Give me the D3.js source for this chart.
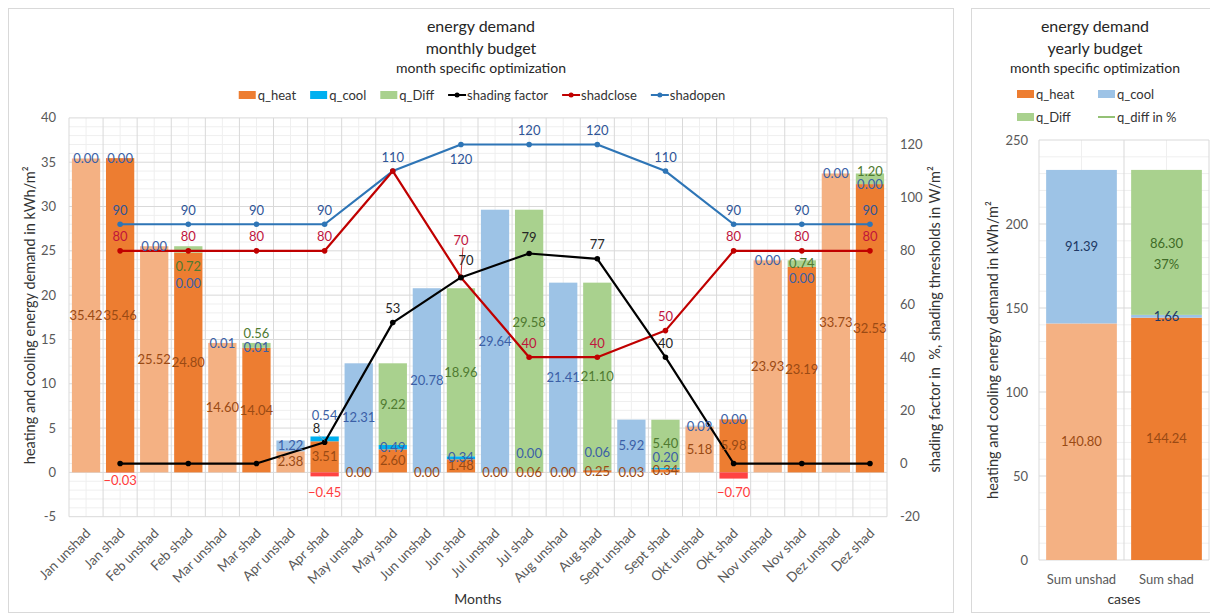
<!DOCTYPE html>
<html>
<head>
<meta charset="utf-8">
<script src="https://cdn.jsdelivr.net/npm/d3@7"></script>
<style>
  body { margin: 0; background: #fff; }
  svg { display: block; font-family: Lato, "Open Sans", sans-serif; }
</style>
</head>
<body>
<svg id="chart" width="1210" height="615"></svg>
<script>
// ---- monthly budget data (kWh/m²) ----
const categories = [
  "Jan unshad", "Jan shad", "Feb unshad", "Feb shad", "Mar unshad", "Mar shad",
  "Apr unshad", "Apr shad", "May unshad", "May shad", "Jun unshad", "Jun shad",
  "Jul unshad", "Jul shad", "Aug unshad", "Aug shad", "Sept unshad", "Sept shad",
  "Okt unshad", "Okt shad", "Nov unshad", "Nov shad", "Dez unshad", "Dez shad"
];
const heatUnshad = [35.42, 25.52, 14.60, 2.38, 0.00, 0.00, 0.00, 0.00, 0.03, 5.18, 23.93, 33.73];
const coolUnshad = [0.00, 0.00, 0.01, 1.22, 12.31, 20.78, 29.64, 21.41, 5.92, 0.09, 0.00, 0.00];
const heatShad   = [35.46, 24.80, 14.04, 3.51, 2.60, 1.48, 0.06, 0.25, 0.34, 5.98, 23.19, 32.53];
const coolShad   = [0.00, 0.00, 0.01, 0.54, 0.49, 0.34, 0.00, 0.06, 0.20, 0.00, 0.00, 0.00];
const diffShad   = [-0.03, 0.72, 0.56, -0.45, 9.22, 18.96, 29.58, 21.10, 5.40, -0.70, 0.74, 1.20];

// shading control (secondary axis: % and W/m²)
const shadingFactor = [0, 0, 0, 8, 53, 70, 79, 77, 40, 0, 0, 0];
const shadClose     = [80, 80, 80, 80, 110, 70, 40, 40, 50, 80, 80, 80];
const shadOpen      = [90, 90, 90, 90, 110, 120, 120, 120, 110, 90, 90, 90];

const leftTicks  = [-5, 0, 5, 10, 15, 20, 25, 30, 35, 40];
const rightTicks = [-20, 0, 20, 40, 60, 80, 100, 120];

// ---- yearly budget data ----
const yearCases   = ["Sum unshad", "Sum shad"];
const yearHeat    = [140.80, 144.24];
const yearCool    = [91.39, 1.66];
const yearDiff    = [0, 86.30];
const yearDiffPct = [null, 37];
const yearTicks   = [0, 50, 100, 150, 200, 250];

const col = {
  heatLight: "#F4B183", coolLight: "#9DC3E6", heat: "#ED7D31", coolBright: "#00B0F0",
  diff: "#A9D18E", neg: "#FF4343",
  factor: "#000000", close: "#C00000", open: "#2E75B6",
  lblHeat: "#9A4A14", lblCool: "#3B5FA6", lblDiff: "#4F7A30", lblNeg: "#FF3B3B",
  lblClose: "#C0143C", lblOpen: "#2F5597", lblFactor: "#262626",
  grid: "#D9D9D9", gridMinor: "#EFEFEF", tick: "#595959", title: "#333333"
};

const svg = d3.select("#chart");
const fmt = d3.format(".2f");

// panel frames
svg.append("rect").attr("x", 8.5).attr("y", 8.5).attr("width", 945).attr("height", 604)
  .attr("fill", "#fff").attr("stroke", "#D9D9D9");
svg.append("rect").attr("x", 971.5).attr("y", 8.5).attr("width", 260).attr("height", 604)
  .attr("fill", "#fff").attr("stroke", "#D9D9D9");

// ================= monthly chart =================
const P = { left: 69, right: 887, top: 117.9, bottom: 516.7 };
const x = d3.scaleBand().domain(categories).range([P.left, P.right])
  .paddingInner(0.17).paddingOuter(0.085);
const y = d3.scaleLinear().domain([-5, 40]).range([P.bottom, P.top]);
const yR = d3.scaleLinear().domain([-20, 130]).range([P.bottom, P.top]);
const bw = x.bandwidth(), step = x.step();
const cx = c => x(c) + bw / 2;

// gridlines
const gMain = svg.append("g");
d3.range(-5, 40.01, 1).forEach(v => {
  if (v % 5 === 0) return;
  gMain.append("line").attr("x1", P.left).attr("x2", P.right)
    .attr("y1", y(v)).attr("y2", y(v)).attr("stroke", col.gridMinor);
});
categories.forEach(c => {
  gMain.append("line").attr("x1", cx(c)).attr("x2", cx(c))
    .attr("y1", P.top).attr("y2", P.bottom).attr("stroke", col.gridMinor);
});
d3.range(categories.length + 1).forEach(i => {
  const xx = P.left + i * step;
  gMain.append("line").attr("x1", xx).attr("x2", xx)
    .attr("y1", P.top).attr("y2", P.bottom).attr("stroke", col.grid);
});
leftTicks.forEach(v => {
  gMain.append("line").attr("x1", P.left).attr("x2", P.right)
    .attr("y1", y(v)).attr("y2", y(v)).attr("stroke", col.grid);
});

// rows for stacking
const rows = categories.map((c, i) => {
  const m = Math.floor(i / 2), shad = i % 2 === 1;
  return {
    cat: c, m, shad,
    heat: shad ? heatShad[m] : heatUnshad[m],
    cool: shad ? coolShad[m] : coolUnshad[m],
    diff: shad ? diffShad[m] : null
  };
});

const segs = [];
rows.forEach(r => {
  segs.push({ r, key: "heat", v: r.heat, y0: 0, y1: r.heat, fill: r.shad ? col.heat : col.heatLight });
  segs.push({ r, key: "cool", v: r.cool, y0: r.heat, y1: r.heat + r.cool, fill: r.shad ? col.coolBright : col.coolLight });
  if (r.diff !== null) {
    if (r.diff >= 0) {
      const b = r.heat + r.cool;
      segs.push({ r, key: "diff", v: r.diff, y0: b, y1: b + r.diff, fill: col.diff });
    } else {
      segs.push({ r, key: "diff", v: r.diff, y0: r.diff, y1: 0, fill: col.neg });
    }
  }
});

svg.append("g").selectAll("rect").data(segs).join("rect")
  .attr("x", d => x(d.r.cat)).attr("width", bw)
  .attr("y", d => y(Math.max(d.y0, d.y1)))
  .attr("height", d => Math.abs(y(d.y0) - y(d.y1)))
  .attr("fill", d => d.fill);

// lines on the secondary axis, drawn at the shaded cases
const shadCats = categories.filter((c, i) => i % 2 === 1);
const lineGen = d3.line().x(d => cx(d.c)).y(d => yR(d.v));
const lineSeries = [
  { name: "shadopen", vals: shadOpen, color: col.open, lbl: col.lblOpen },
  { name: "shadclose", vals: shadClose, color: col.close, lbl: col.lblClose },
  { name: "shading factor", vals: shadingFactor, color: col.factor, lbl: col.lblFactor }
];
const gLines = svg.append("g");
lineSeries.forEach(s => {
  const pts = s.vals.map((v, i) => ({ c: shadCats[i], v }));
  gLines.append("path").attr("d", lineGen(pts)).attr("fill", "none")
    .attr("stroke", s.color).attr("stroke-width", 2.2).attr("stroke-linejoin", "round");
  gLines.selectAll(null).data(pts).join("circle")
    .attr("cx", d => cx(d.c)).attr("cy", d => yR(d.v)).attr("r", 2.8).attr("fill", s.color);
});

// ---- data labels ----
const gLbl = svg.append("g").attr("font-size", 13).attr("text-anchor", "middle");
const segLabelShift = {
  "Feb shad|diff": 17, "Feb shad|cool": 31, "Mar shad|diff": -12, "Apr shad|cool": -23,
  "Jul shad|diff": -18, "Jul shad|cool": -18, "Aug shad|cool": -17, "Sept shad|cool": -11,
  "Nov shad|cool": 12, "Dez shad|diff": -7, "Apr shad|diffneg": 8, "Okt shad|diffneg": 6
};
segs.forEach(d => {
  let yy, color;
  if (d.key === "diff" && d.v < 0) {
    yy = y(d.v) + 8 + (segLabelShift[d.r.cat + "|diffneg"] || 0);
    color = col.lblNeg;
  } else {
    yy = y((d.y0 + d.y1) / 2) + (segLabelShift[d.r.cat + "|" + d.key] || 0);
    color = d.key === "heat" ? col.lblHeat : d.key === "cool" ? col.lblCool : col.lblDiff;
  }
  gLbl.append("text").attr("x", cx(d.r.cat)).attr("y", yy).attr("dy", "0.35em")
    .attr("fill", color).text(fmt(d.v));
});

// line labels
const lineLabelAdjust = {
  "shadopen|5": { dy: 15 },
  "shadclose|4": { hide: true },
  "shadclose|5": { dy: -37, leader: true },
  "shading factor|5": { dy: -17, dx: 5 },
  "shading factor|6": { dy: -16 },
  "shading factor|3": { dy: -14, dx: -8, leader: true }
};
lineSeries.forEach(s => {
  s.vals.forEach((v, i) => {
    if (s.name === "shading factor" && v === 0) return;
    const a = lineLabelAdjust[s.name + "|" + i] || {};
    if (a.hide) return;
    const px = cx(shadCats[i]), py = yR(v);
    const lx = px + (a.dx || 0), ly = py + (a.dy !== undefined ? a.dy : -14);
    if (a.leader) {
      gLbl.append("line").attr("x1", lx + 2).attr("y1", ly + 7).attr("x2", px).attr("y2", py - 2)
        .attr("stroke", s.name === "shadclose" ? s.color : "#A6A6A6").attr("stroke-width", 0.8);
    }
    gLbl.append("text").attr("x", lx).attr("y", ly).attr("dy", "0.35em")
      .attr("fill", s.lbl).text(v);
  });
});

// axes text
const gAx = svg.append("g").attr("font-size", 13).attr("fill", col.tick);
leftTicks.forEach(v => gAx.append("text").attr("x", 56).attr("y", y(v)).attr("dy", "0.35em")
  .attr("text-anchor", "end").text(v));
rightTicks.forEach(v => gAx.append("text").attr("x", 900).attr("y", yR(v)).attr("dy", "0.35em")
  .attr("text-anchor", "start").text(v));
categories.forEach(c => gAx.append("text")
  .attr("transform", `translate(${cx(c) + 2},${P.bottom + 14}) rotate(-45)`)
  .attr("font-size", 13.5)
  .attr("dy", "0.35em").attr("text-anchor", "end").text(c));

svg.append("text").attr("x", 478).attr("y", 599).attr("dy", "0.35em").attr("text-anchor", "middle")
  .attr("font-size", 14).attr("fill", col.title).text("Months");
svg.append("text").attr("transform", `translate(30,${(P.top + P.bottom) / 2 - 2}) rotate(-90)`)
  .attr("dy", "0.35em").attr("text-anchor", "middle").attr("font-size", 14.5).attr("fill", col.title)
  .text("heating and cooling energy demand in kWh/m²");
svg.append("text").attr("transform", `translate(935,${(P.top + P.bottom) / 2 + 2}) rotate(-90)`)
  .attr("dy", "0.35em").attr("text-anchor", "middle").attr("font-size", 14.5).attr("fill", col.title)
  .style("white-space", "pre")
  .text("shading factor in  %, shading thresholds in W/m²");

// titles
function titles(cxT) {
  const g = svg.append("g").attr("text-anchor", "middle").attr("fill", "#262626");
  g.append("text").attr("x", cxT).attr("y", 26).attr("dy", "0.35em").attr("font-size", 16).text("energy demand");
  return g;
}
const t1 = titles(481);
t1.append("text").attr("x", 481).attr("y", 48).attr("dy", "0.35em").attr("font-size", 16).text("monthly budget");
t1.append("text").attr("x", 481).attr("y", 68).attr("dy", "0.35em").attr("font-size", 14).text("month specific optimization");
const t2 = titles(1095);
t2.append("text").attr("x", 1095).attr("y", 48).attr("dy", "0.35em").attr("font-size", 16).text("yearly budget");
t2.append("text").attr("x", 1095).attr("y", 68).attr("dy", "0.35em").attr("font-size", 14).text("month specific optimization");

// legend (monthly)
const legendItems = [
  { t: "q_heat", type: "rect", c: col.heat },
  { t: "q_cool", type: "rect", c: col.coolBright },
  { t: "q_Diff", type: "rect", c: col.diff },
  { t: "shading factor", type: "line", c: col.factor },
  { t: "shadclose", type: "line", c: col.close },
  { t: "shadopen", type: "line", c: col.open }
];
const gLeg = svg.append("g").attr("font-size", 13).attr("fill", col.title);
let lx = 0;
legendItems.forEach(it => {
  const g = gLeg.append("g").attr("transform", `translate(${lx},0)`);
  if (it.type === "rect") {
    g.append("rect").attr("x", 0).attr("y", -4).attr("width", 17).attr("height", 8).attr("fill", it.c);
  } else {
    g.append("line").attr("x1", 0).attr("x2", 18).attr("y1", 0).attr("y2", 0).attr("stroke", it.c).attr("stroke-width", 2);
    g.append("circle").attr("cx", 9).attr("cy", 0).attr("r", 2.5).attr("fill", it.c);
  }
  const tx = g.append("text").attr("x", 19).attr("y", 0).attr("dy", "0.35em").text(it.t);
  lx += 19 + tx.node().getComputedTextLength() + 14;
});
const legW = lx - 14;
gLeg.attr("transform", `translate(${482 - legW / 2},95)`);

// ================= yearly chart =================
const Q = { left: 1039, right: 1209, top: 140, bottom: 560 };
const x2 = d3.scaleBand().domain(yearCases).range([Q.left, Q.right]).paddingInner(0.168).paddingOuter(0.084);
const y2 = d3.scaleLinear().domain([0, 250]).range([Q.bottom, Q.top]);
const bw2 = x2.bandwidth(), step2 = x2.step();
const cx2 = c => x2(c) + bw2 / 2;

const gY = svg.append("g");
d3.range(0, 250.01, 10).forEach(v => {
  if (v % 50 === 0) return;
  gY.append("line").attr("x1", Q.left).attr("x2", Q.right).attr("y1", y2(v)).attr("y2", y2(v)).attr("stroke", col.gridMinor);
});
yearCases.forEach(c => gY.append("line").attr("x1", cx2(c)).attr("x2", cx2(c))
  .attr("y1", Q.top).attr("y2", Q.bottom).attr("stroke", col.gridMinor));
d3.range(yearCases.length + 1).forEach(i => {
  const xx = Q.left + i * step2;
  gY.append("line").attr("x1", xx).attr("x2", xx).attr("y1", Q.top).attr("y2", Q.bottom).attr("stroke", col.grid);
});
yearTicks.forEach(v => gY.append("line").attr("x1", Q.left).attr("x2", Q.right)
  .attr("y1", y2(v)).attr("y2", y2(v)).attr("stroke", col.grid));

const ySegs = [];
yearCases.forEach((c, i) => {
  const h = yearHeat[i], k = yearCool[i], d = yearDiff[i];
  ySegs.push({ c, key: "heat", v: h, y0: 0, y1: h, fill: i === 0 ? col.heatLight : col.heat });
  ySegs.push({ c, key: "cool", v: k, y0: h, y1: h + k, fill: col.coolLight });
  if (d > 0) ySegs.push({ c, key: "diff", v: d, y0: h + k, y1: h + k + d, fill: col.diff });
});
svg.append("g").selectAll("rect").data(ySegs).join("rect")
  .attr("x", d => x2(d.c)).attr("width", bw2)
  .attr("y", d => y2(d.y1)).attr("height", d => y2(d.y0) - y2(d.y1)).attr("fill", d => d.fill);

const gYL = svg.append("g").attr("font-size", 13).attr("text-anchor", "middle");
ySegs.forEach(d => {
  const color = d.key === "heat" ? col.lblHeat : d.key === "cool" ? "#203864" : "#3F6B27";
  gYL.append("text").attr("x", cx2(d.c)).attr("y", y2((d.y0 + d.y1) / 2) + (d.key === "diff" ? 1 : 0))
    .attr("dy", "0.35em").attr("fill", color).text(fmt(d.v));
});
yearDiffPct.forEach((p, i) => {
  if (p === null) return;
  const b = yearHeat[i] + yearCool[i];
  gYL.append("text").attr("x", cx2(yearCases[i])).attr("y", y2(b + yearDiff[i] / 2) + 22)
    .attr("dy", "0.35em").attr("fill", "#3F6B27").text(p + "%");
});

const gAx2 = svg.append("g").attr("font-size", 13).attr("fill", col.tick);
yearTicks.forEach(v => gAx2.append("text").attr("x", 1028).attr("y", y2(v)).attr("dy", "0.35em")
  .attr("text-anchor", "end").text(v));
yearCases.forEach(c => gAx2.append("text").attr("x", cx2(c)).attr("y", 579).attr("dy", "0.35em")
  .attr("text-anchor", "middle").text(c));
svg.append("text").attr("x", 1124).attr("y", 599).attr("dy", "0.35em").attr("text-anchor", "middle")
  .attr("font-size", 14).attr("fill", col.title).text("cases");
svg.append("text").attr("transform", `translate(993,${(Q.top + Q.bottom) / 2}) rotate(-90)`)
  .attr("dy", "0.35em").attr("text-anchor", "middle").attr("font-size", 14.5).attr("fill", col.title)
  .text("heating and cooling energy demand in kWh/m²");

// legend (yearly)
const yLeg = [
  { t: "q_heat", type: "rect", c: col.heat, x: 1017, y: 94 },
  { t: "q_cool", type: "rect", c: col.coolLight, x: 1098, y: 94 },
  { t: "q_Diff", type: "rect", c: col.diff, x: 1017, y: 117 },
  { t: "q_diff in %", type: "line", c: col.diff, x: 1098, y: 117 }
];
const gLeg2 = svg.append("g").attr("font-size", 13).attr("fill", col.title);
yLeg.forEach(it => {
  const g = gLeg2.append("g").attr("transform", `translate(${it.x},${it.y})`);
  if (it.type === "rect") g.append("rect").attr("x", 0).attr("y", -4).attr("width", 17).attr("height", 8).attr("fill", it.c);
  else g.append("line").attr("x1", 0).attr("x2", 17).attr("stroke", "#70AD47").attr("stroke-width", 1.5);
  g.append("text").attr("x", 19).attr("dy", "0.35em").text(it.t);
});
</script>
</body>
</html>
